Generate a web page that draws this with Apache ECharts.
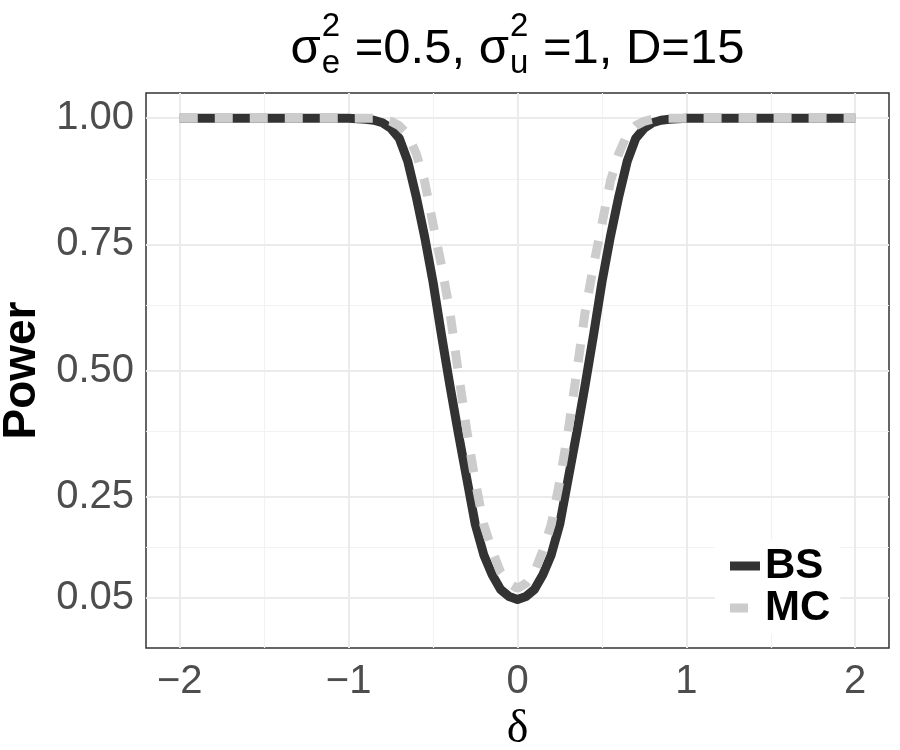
<!DOCTYPE html>
<html>
<head>
<meta charset="utf-8">
<script src="https://cdn.jsdelivr.net/npm/echarts@6/dist/echarts.min.js"></script>
<style>
  html, body { margin: 0; padding: 0; background: #fff; }
  #main { width: 900px; height: 750px; }
</style>
</head>
<body>
<div id="main"></div>
<script>
// delta grid (finer around the dip)
var delta = [-2.0, -1.9, -1.8, -1.7, -1.6, -1.5, -1.4, -1.3, -1.2, -1.1,
  -1.0, -0.95, -0.9, -0.85, -0.8, -0.75, -0.7, -0.65, -0.6, -0.55, -0.5,
  -0.45, -0.4, -0.35, -0.3, -0.25, -0.2, -0.15, -0.1, -0.05, 0,
  0.05, 0.1, 0.15, 0.2, 0.25, 0.3, 0.35, 0.4, 0.45, 0.5,
  0.55, 0.6, 0.65, 0.7, 0.75, 0.8, 0.85, 0.9, 0.95, 1.0,
  1.1, 1.2, 1.3, 1.4, 1.5, 1.6, 1.7, 1.8, 1.9, 2.0];

var powerBS = [1, 1, 1, 1, 1, 1, 1, 1, 1, 1,
  1.0, 0.999, 0.998, 0.996, 0.991, 0.980, 0.960, 0.915, 0.845, 0.765, 0.675,
  0.570, 0.470, 0.375, 0.285, 0.195, 0.135, 0.095, 0.066, 0.052, 0.046,
  0.052, 0.066, 0.095, 0.135, 0.195, 0.285, 0.375, 0.470, 0.570, 0.675,
  0.765, 0.845, 0.915, 0.960, 0.980, 0.991, 0.996, 0.998, 0.999, 1.0,
  1, 1, 1, 1, 1, 1, 1, 1, 1, 1];

var powerMC = [1, 1, 1, 1, 1, 1, 1, 1, 1, 1,
  1.0, 1.0, 1.0, 1.0, 0.998, 0.994, 0.985, 0.968, 0.930, 0.875, 0.790,
  0.708, 0.615, 0.495, 0.380, 0.280, 0.195, 0.143, 0.100, 0.078, 0.068,
  0.078, 0.100, 0.143, 0.195, 0.280, 0.380, 0.495, 0.615, 0.708, 0.790,
  0.875, 0.930, 0.968, 0.985, 0.994, 0.998, 1.0, 1.0, 1.0, 1.0,
  1, 1, 1, 1, 1, 1, 1, 1, 1, 1];

var xBreaks = [-2, -1, 0, 1, 2];
var xMinor = [-1.5, -0.5, 0.5, 1.5];
var yBreaks = [0.05, 0.25, 0.5, 0.75, 1];
var yMinor = [0.15, 0.375, 0.625, 0.875];

var chart = echarts.init(document.getElementById('main'));

function pairs(xs, ys) {
  return xs.map(function (x, i) { return [x, ys[i]]; });
}

// gridlines (ggplot theme_bw look)
var gridLines = [];
xMinor.forEach(function (v) { gridLines.push({ xAxis: v, lineStyle: { color: '#f2f2f2', width: 1.2, type: 'solid' } }); });
yMinor.forEach(function (v) { gridLines.push({ yAxis: v, lineStyle: { color: '#f2f2f2', width: 1.2, type: 'solid' } }); });
xBreaks.forEach(function (v) { gridLines.push({ xAxis: v, lineStyle: { color: '#ebebeb', width: 2, type: 'solid' } }); });
yBreaks.forEach(function (v) { gridLines.push({ yAxis: v, lineStyle: { color: '#ebebeb', width: 2, type: 'solid' } }); });

// title with sub/superscripts, laid out by measuring text
var ctx = document.createElement('canvas').getContext('2d');
function textW(t, size) {
  ctx.font = size + 'px "Liberation Sans"';
  return ctx.measureText(t).width;
}
var mainSize = 49, scriptSize = 33;
var pieces = [
  { t: 'σ' },
  { sup: '2', sub: 'e' },
  { t: ' =0.5, σ' },
  { sup: '2', sub: 'u' },
  { t: ' =1, D=15' }
];
var total = 0;
pieces.forEach(function (p) {
  p.w = p.t ? textW(p.t, mainSize) : Math.max(textW(p.sup, scriptSize), textW(p.sub, scriptSize)) + 2;
  total += p.w;
});
var cx = 517.5, mainY = 49, supY = 27, subY = 64;
var x0 = cx - total / 2;
var titleEls = [];
pieces.forEach(function (p) {
  if (p.t) {
    titleEls.push({ type: 'text', x: x0, y: mainY, style: { text: p.t, font: mainSize + 'px "Liberation Sans"', fill: '#000', verticalAlign: 'middle' } });
  } else {
    titleEls.push({ type: 'text', x: x0 + 1, y: supY, style: { text: p.sup, font: scriptSize + 'px "Liberation Sans"', fill: '#000', verticalAlign: 'middle' } });
    titleEls.push({ type: 'text', x: x0 + 1, y: subY, style: { text: p.sub, font: scriptSize + 'px "Liberation Sans"', fill: '#000', verticalAlign: 'middle' } });
  }
  x0 += p.w;
});

var option = {
  animation: false,
  backgroundColor: '#fff',
  graphic: titleEls,
  grid: {
    left: 146, right: 11, top: 93, bottom: 102,
    containLabel: false, outerBoundsMode: 'none',
    show: true, backgroundColor: '#fff', borderColor: '#333', borderWidth: 1.5
  },
  legend: {
    orient: 'vertical',
    left: 715, top: 540, z: 20,
    padding: [5, 10, 5, 15],
    backgroundColor: '#fff',
    itemWidth: 30, itemHeight: 9, itemGap: 0,
    symbolKeepAspect: true,
    textStyle: { fontFamily: 'Liberation Sans', fontSize: 42, fontWeight: 'bold', color: '#000', lineHeight: 39 },
    data: [
      { name: 'BS', icon: 'path://M0,0h30v9h-30z', itemStyle: { color: '#333', borderWidth: 0 } },
      { name: 'MC', icon: 'path://M0,0h18v9h-18z M30,4.5h0.001', itemStyle: { color: '#ccc', borderWidth: 0 } }
    ]
  },
  xAxis: {
    type: 'value', min: -2.2, max: 2.2,
    name: 'δ', nameLocation: 'middle', nameGap: 47,
    nameTextStyle: { fontFamily: 'Liberation Serif', fontSize: 46, color: '#000' },
    axisLine: { show: false },
    splitLine: { show: false },
    axisTick: { show: true, customValues: xBreaks, length: 9, lineStyle: { color: '#333', width: 1.5 } },
    axisLabel: {
      customValues: xBreaks, margin: 14,
      fontFamily: 'Liberation Sans', fontSize: 40, color: '#4d4d4d',
      formatter: function (v) { return v < 0 ? '\u2212' + Math.abs(v) : String(v); }
    }
  },
  yAxis: {
    type: 'value', min: -0.05, max: 1.05,
    name: 'Power', nameLocation: 'middle', nameGap: 89,
    nameTextStyle: { fontFamily: 'Liberation Sans', fontSize: 46, fontWeight: 'bold', color: '#000' },
    axisLine: { show: false },
    splitLine: { show: false },
    axisTick: { show: true, customValues: yBreaks, length: 9, lineStyle: { color: '#333', width: 1.5 } },
    axisLabel: {
      customValues: yBreaks, margin: 12,
      fontFamily: 'Liberation Sans', fontSize: 40, color: '#4d4d4d',
      formatter: function (v) { return v.toFixed(2); }
    }
  },
  series: [
    {
      name: 'grid', type: 'line', data: [], z: 1, silent: true,
      markLine: { z: 1, silent: true, symbol: 'none', label: { show: false }, emphasis: { disabled: true }, data: gridLines }
    },
    {
      name: 'BS', type: 'line', data: pairs(delta, powerBS), z: 3,
      symbol: 'none', showSymbol: false,
      lineStyle: { color: '#333', width: 9, join: 'round' },
      itemStyle: { color: '#333' }
    },
    {
      name: 'MC', type: 'line', data: pairs(delta, powerMC), z: 4,
      symbol: 'none', showSymbol: false,
      lineStyle: { color: '#ccc', width: 9, type: [18, 17], cap: 'butt' },
      itemStyle: { color: '#ccc' }
    }
  ]
};
chart.setOption(option);
</script>
</body>
</html>
